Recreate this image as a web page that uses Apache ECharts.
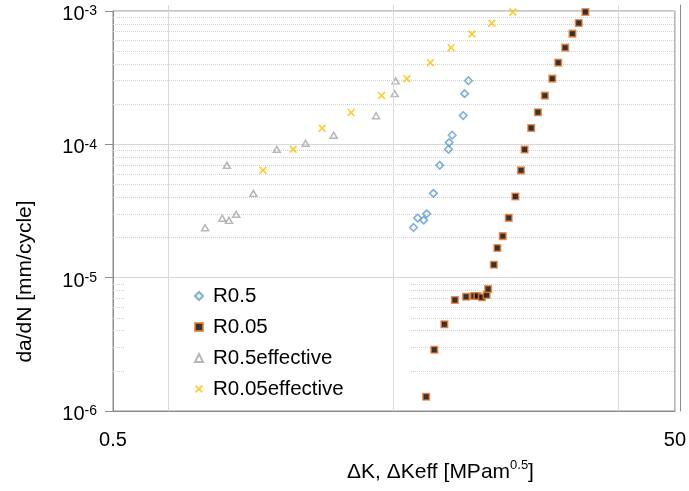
<!DOCTYPE html>
<html><head><meta charset="utf-8">
<script src="https://cdn.jsdelivr.net/npm/echarts@6/dist/echarts.min.js"></script>
<style>html,body{margin:0;padding:0;background:#fff}#c{width:689px;height:491px}</style>
</head><body><div id="c"></div>
<script>
// R0.5
const r05K = [5.87, 6.07, 6.38, 6.54, 6.91, 7.28, 7.82, 7.86, 8.06, 8.82, 8.92, 9.21];
const r05Rate = [2.38e-5, 2.80e-5, 2.70e-5, 3.01e-5, 4.29e-5, 6.96e-5, 9.18e-5, 1.03e-4, 1.17e-4, 1.645e-4, 2.40e-4, 3.00e-4];
// R0.05
const r005K = [6.51, 6.96, 7.56, 8.24, 9.03, 9.62, 9.91, 10.28, 10.69, 10.82, 11.34, 11.67, 12.20, 12.81, 13.53, 14.17, 14.59, 15.40, 16.27, 17.22, 18.31, 19.22, 20.35, 21.60, 22.74, 24.02];
const r005Rate = [1.28e-6, 2.88e-6, 4.47e-6, 6.80e-6, 7.20e-6, 7.29e-6, 7.29e-6, 7.13e-6, 7.41e-6, 8.22e-6, 1.25e-5, 1.67e-5, 2.05e-5, 2.81e-5, 4.06e-5, 6.38e-5, 9.14e-5, 1.326e-4, 1.74e-4, 2.32e-4, 3.11e-4, 4.10e-4, 5.31e-4, 6.76e-4, 8.13e-4, 9.83e-4];
// R0.5effective
const r05effK = [1.064, 1.224, 1.293, 1.372, 1.272, 1.580, 1.914, 2.423, 3.052, 4.320, 5.03, 5.07];
const r05effRate = [2.37e-5, 2.79e-5, 2.69e-5, 2.99e-5, 6.96e-5, 4.29e-5, 9.18e-5, 1.018e-4, 1.169e-4, 1.64e-4, 2.40e-4, 2.99e-4];
// R0.05effective
const r005effK = [1.709, 2.189, 2.775, 3.52, 4.517, 5.556, 6.74, 7.99, 9.48, 11.15, 13.25];
const r005effRate = [6.38e-5, 9.18e-5, 1.32e-4, 1.73e-4, 2.32e-4, 3.11e-4, 4.10e-4, 5.31e-4, 6.72e-4, 8.09e-4, 9.83e-4];

const seriesNames = ['R0.5', 'R0.05', 'R0.5effective', 'R0.05effective'];
const xTickLabels = ['0.5', '50'];
const vGridValues = [0.78, 4.86, 30.2];
const xRange = [0.5, 50];

const minorY = [];
for (let e = -6; e <= -4; e++) for (let m = 2; m <= 9; m++) minorY.push(+(m * Math.pow(10, e)).toPrecision(3));

const fam = "'Liberation Sans', Arial, sans-serif";
const axisColor = '#8c8c8c';
const gridColor = '#d9d9d9';
const pairs = (xs, ys) => xs.map((x, i) => [x, ys[i]]);
const xPath = 'path://M0,1.5L1.5,0L5,3.5L8.5,0L10,1.5L6.5,5L10,8.5L8.5,10L5,6.5L1.5,10L0,8.5L3.5,5Z';

const chart = echarts.init(document.getElementById('c'), null, {renderer: 'canvas'});
chart.setOption({
  animation: false,
  textStyle: {fontFamily: fam},
  title: {
    text: '{a|\u0394K, \u0394Keff [MPam}{s|0.5}{a|]}',
    left: 347, top: 459, padding: 0,
    textStyle: {fontWeight: 'normal', rich: {
      a: {fontSize: 21, lineHeight: 26, color: '#000', fontFamily: fam, fontWeight: 'normal'},
      s: {fontSize: 13, lineHeight: 12, verticalAlign: 'top', color: '#000', fontFamily: fam, fontWeight: 'normal'}
    }}
  },
  legend: {
    orient: 'vertical', left: 125, top: 280, padding: [5.5, 66, 7, 69],
    backgroundColor: '#fff', itemWidth: 8, itemHeight: 8, itemGap: 10,
    selectedMode: false,
    textStyle: {fontSize: 20.5, color: '#000', fontFamily: fam, padding: [0, 0, 0, 5]},
    data: seriesNames
  },
  grid: [
    {left: 113, right: 9, top: 11, bottom: 80, show: true, borderColor: axisColor, borderWidth: 1, backgroundColor: 'transparent'},
    {left: 113, right: 9, top: 5, bottom: 80}
  ],
  xAxis: [
    {type: 'log', gridIndex: 0, min: 0.5, max: 50, logBase: 10,
     axisLine: {show: true, lineStyle: {color: axisColor}},
     axisTick: {show: false}, splitLine: {show: false}, minorTick: {show: false},
     axisLabel: {color: '#000', fontSize: 20, margin: 19, showMinLabel: true, showMaxLabel: true,
       formatter: v => (Math.abs(v - 0.5) < 1e-6 ? xTickLabels[0] : (Math.abs(v - 50) < 1e-4 ? xTickLabels[1] : ''))}},
    {type: 'log', gridIndex: 1, min: 0.5, max: 50, show: false}
  ],
  yAxis: [
    {type: 'log', gridIndex: 0, min: 1e-6, max: 1e-3,
     axisLine: {show: true, lineStyle: {color: axisColor}},
     axisTick: {show: true, length: 8, lineStyle: {color: axisColor}},
     minorTick: {show: false},
     splitLine: {show: true, showMinLine: false, showMaxLine: false, lineStyle: {color: gridColor, width: 1}},
     axisLabel: {margin: 16, padding: [7, 0, 0, 0],
       formatter: v => '{b|10}{s|' + Math.round(Math.log10(v)) + '}',
       rich: {
         b: {fontSize: 20, lineHeight: 20, color: '#000', fontFamily: fam},
         s: {fontSize: 14, lineHeight: 14, verticalAlign: 'top', color: '#000', fontFamily: fam}
       }}},
    {type: 'value', gridIndex: 1, min: 0, max: 1, position: 'right',
     axisLine: {show: true, onZero: false, lineStyle: {color: axisColor}},
     axisTick: {show: false}, axisLabel: {show: false}, splitLine: {show: false}}
  ],
  series: [
    {type: 'lines', name: '_hgrid', coordinateSystem: 'cartesian2d', xAxisIndex: 0, yAxisIndex: 0,
     silent: true, z: 1, polyline: false, effect: {show: false},
     lineStyle: {color: '#d2d2d2', width: 1, type: [1, 1], opacity: 1},
     data: minorY.map(v => ({coords: [[xRange[0], v], [xRange[1], v]]}))},
    {type: 'scatter', name: '_vgrid', xAxisIndex: 1, yAxisIndex: 1, data: [[1, 0.5]], symbolSize: 0, silent: true, z: 1,
     markLine: {silent: true, symbol: ['none', 'none'], label: {show: false}, emphasis: {disabled: true},
       lineStyle: {color: gridColor, width: 1, type: 'solid'},
       data: vGridValues.map(v => ({xAxis: v}))}},
    {name: seriesNames[0], type: 'scatter', z: 3, data: pairs(r05K, r05Rate), symbol: 'diamond', symbolSize: 7.5,
     itemStyle: {color: 'rgba(255,255,255,0)', borderColor: '#5B9BD5', borderWidth: 1.6}},
    {name: seriesNames[1], type: 'scatter', z: 3, data: pairs(r005K, r005Rate), symbol: 'rect', symbolSize: 6.5,
     itemStyle: {color: '#000', borderColor: '#ED7D31', borderWidth: 1.6}},
    {name: seriesNames[2], type: 'scatter', z: 3, data: pairs(r05effK, r05effRate), symbol: 'triangle', symbolSize: [7, 6],
     itemStyle: {color: 'rgba(255,255,255,0)', borderColor: '#A5A5A5', borderWidth: 1.5}},
    {name: seriesNames[3], type: 'scatter', z: 3, data: pairs(r005effK, r005effRate), symbol: xPath, symbolSize: 8,
     itemStyle: {color: '#FFC000'}}
  ],
  graphic: [
    {type: 'text', x: 25, y: 281.5, rotation: Math.PI / 2,
     style: {text: 'da/dN [mm/cycle]', fill: '#000', fontSize: 21, fontFamily: fam, align: 'center', verticalAlign: 'middle'}}
  ]
});
</script></body></html>
